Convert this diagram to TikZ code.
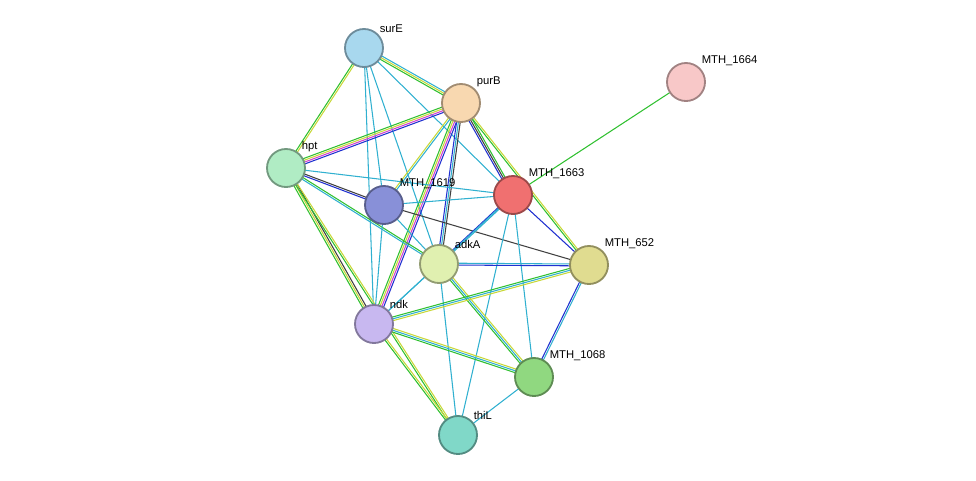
\documentclass[tikz,border=0pt]{standalone}
\usepackage{fontspec}
\setmainfont{Liberation Sans}
\usetikzlibrary{calc}

\definecolor{tm}{HTML}{C8D838}
\definecolor{nb}{HTML}{30C030}
\definecolor{db}{HTML}{30B0D0}
\definecolor{ex}{HTML}{D040D0}
\definecolor{bd}{HTML}{2030D0}
\definecolor{co}{HTML}{404040}
\definecolor{surEc}{HTML}{A8D8EE}
\definecolor{purBc}{HTML}{F8D8B0}
\definecolor{m1664c}{HTML}{F8C8C8}
\definecolor{hptc}{HTML}{B0ECC4}
\definecolor{m1619c}{HTML}{8890D8}
\definecolor{m1663c}{HTML}{F07070}
\definecolor{adkAc}{HTML}{E0F0B0}
\definecolor{m652c}{HTML}{E0DC90}
\definecolor{ndkc}{HTML}{C8B8F0}
\definecolor{m1068c}{HTML}{90D880}
\definecolor{thiLc}{HTML}{80D8C8}

% one STRING edge: colours with their offsets (pt)
\newcommand{\stredge}[3]{%
  \foreach \c/\o in {#3}
    \draw[\c,line width=0.75pt] ($(c-#1)!\o pt!90:(c-#2)$) -- ($(c-#2)!\o pt!-90:(c-#1)$);%
}

\tikzset{
  prot/.style={circle,draw=#1!65!black,fill=#1,line width=1.3pt,minimum size=0.95cm,inner sep=0pt},
  lbl/.style={font=\footnotesize,anchor=south west,inner sep=1pt}
}

\begin{document}
\begin{tikzpicture}[x=0.025cm,y=-0.025cm]
\useasboundingbox (0,0) rectangle (976,481);

\coordinate (c-surE) at (364,48);
\coordinate (c-purB) at (461,103);
\coordinate (c-m1664) at (686,82);
\coordinate (c-hpt) at (286,168);
\coordinate (c-m1619) at (384,205);
\coordinate (c-m1663) at (513,195);
\coordinate (c-adkA) at (439,264);
\coordinate (c-m652) at (589,265);
\coordinate (c-ndk) at (374,324);
\coordinate (c-m1068) at (534,377);
\coordinate (c-thiL) at (458,435);

% edges
\stredge{surE}{purB}{nb/-1.3,tm/0,db/1.3}
\stredge{surE}{hpt}{nb/-0.65,tm/0.65}
\stredge{surE}{m1619}{db/0}
\stredge{surE}{adkA}{db/0}
\stredge{surE}{ndk}{db/0}
\stredge{surE}{m1663}{db/0}
\stredge{purB}{hpt}{nb/-1.95,tm/-0.65,ex/0.65,bd/1.95}
\stredge{purB}{m1619}{tm/-0.65,db/0.65}
\stredge{purB}{m1663}{bd/-1.3,co/0,nb/1.3}
\stredge{purB}{m652}{nb/-0.65,tm/0.65}
\stredge{purB}{adkA}{bd/-1.3,db/0,co/1.3}
\stredge{purB}{ndk}{nb/-1.95,tm/-0.65,ex/0.65,bd/1.95}
\stredge{m1664}{m1663}{nb/0}
\stredge{hpt}{m1619}{bd/-0.65,co/0.65}
\stredge{hpt}{m1663}{db/0}
\stredge{hpt}{adkA}{db/-0.65,nb/0.65}
\stredge{hpt}{ndk}{nb/-1.3,tm/0,co/1.3}
\stredge{hpt}{thiL}{nb/-0.65,tm/0.65}
\stredge{m1619}{m1663}{db/0}
\stredge{m1619}{m652}{co/0}
\stredge{m1619}{adkA}{db/0}
\stredge{m1619}{ndk}{db/0}
\stredge{m1663}{adkA}{bd/-0.65,db/0.65}
\stredge{m1663}{m652}{bd/0}
\stredge{m1663}{m1068}{db/0}
\stredge{m1663}{thiL}{db/0}
\stredge{m1663}{ndk}{db/0}
\stredge{adkA}{m652}{bd/-0.65,db/0.65}
\stredge{adkA}{ndk}{db/0}
\stredge{adkA}{m1068}{nb/-1.3,db/0,tm/1.3}
\stredge{adkA}{thiL}{db/0}
\stredge{m652}{ndk}{nb/-1.3,db/0,tm/1.3}
\stredge{m652}{m1068}{bd/-0.65,db/0.65}
\stredge{ndk}{m1068}{nb/-1.3,db/0,tm/1.3}
\stredge{ndk}{thiL}{nb/-0.65,tm/0.65}
\stredge{m1068}{thiL}{db/0}

% proteins
\node[prot=surEc] (surE) at (c-surE) {};
\node[prot=purBc] (purB) at (c-purB) {};
\node[prot=m1664c] (m1664) at (c-m1664) {};
\node[prot=hptc] (hpt) at (c-hpt) {};
\node[prot=m1619c] (m1619) at (c-m1619) {};
\node[prot=m1663c] (m1663) at (c-m1663) {};
\node[prot=adkAc] (adkA) at (c-adkA) {};
\node[prot=m652c] (m652) at (c-m652) {};
\node[prot=ndkc] (ndk) at (c-ndk) {};
\node[prot=m1068c] (m1068) at (c-m1068) {};
\node[prot=thiLc] (thiL) at (c-thiL) {};

% labels
\node[lbl] (l-surE) at (surE.north east) {surE};
\node[lbl] (l-purB) at (purB.north east) {purB};
\node[lbl] (l-m1664) at (m1664.north east) {MTH\_1664};
\node[lbl] (l-hpt) at (hpt.north east) {hpt};
\node[lbl] (l-m1619) at (m1619.north east) {MTH\_1619};
\node[lbl] (l-m1663) at (m1663.north east) {MTH\_1663};
\node[lbl] (l-adkA) at (adkA.north east) {adkA};
\node[lbl] (l-m652) at (m652.north east) {MTH\_652};
\node[lbl] (l-ndk) at (ndk.north east) {ndk};
\node[lbl] (l-m1068) at (m1068.north east) {MTH\_1068};
\node[lbl] (l-thiL) at (thiL.north east) {thiL};
\end{tikzpicture}
\end{document}
